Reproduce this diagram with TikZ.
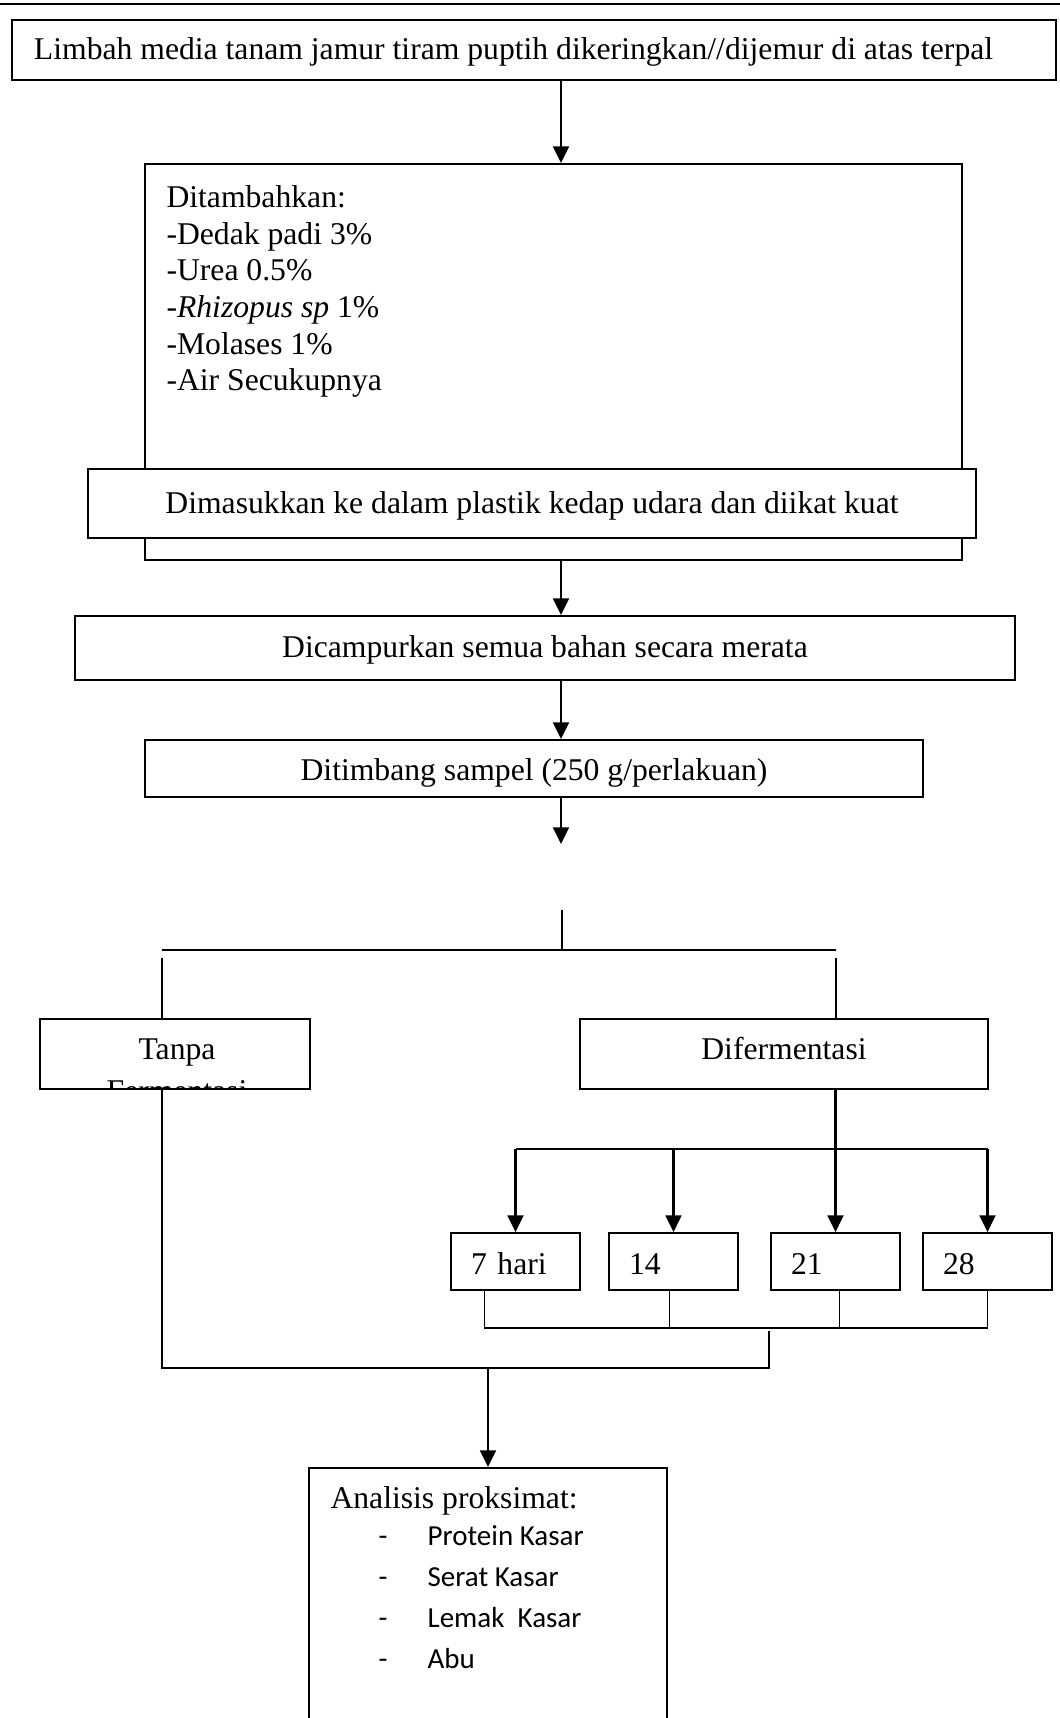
\documentclass[tikz,border=0pt]{standalone}
\usepackage{fontspec}
\setmainfont{Liberation Serif}
\newfontfamily\calibri{Carlito}
\usetikzlibrary{arrows.meta,positioning,calc}

\begin{document}
\begin{tikzpicture}[
  x=0.3791pt, y=-0.3791pt,
  font=\fontsize{12}{13.9}\selectfont,
  box/.style={draw, line width=0.75pt, fill=white, align=center, inner sep=0pt, text height=9.9pt, text depth=2.6pt},
  daybox/.style={draw, line width=0.7pt, fill=white, align=left, text width=33.7pt, inner xsep=7.6pt, inner ysep=0pt, minimum height=21.6pt, text height=9.8pt, text depth=0pt},
  arr/.style={-{Triangle[length=6.3pt,width=6pt]}, line width=0.85pt},
  ln/.style={line width=0.6pt}
]
\useasboundingbox (0,0) rectangle (1060,1718);
\draw[line width=1.1pt] (0,4) -- (1060,4);

\node[box, anchor=west, align=flush left, text width=379.1pt, inner xsep=8.34pt, minimum height=22.75pt] (limbah) at (11,50) {Limbah media tanam jamur tiram puptih dikeringkan//dijemur di atas terpal};
\node[box, minimum width=309.7pt, minimum height=150.1pt] (tambah) at (553.5,362) {};
\node[anchor=north west, align=left, inner sep=0pt] (bahan) at (166,185) {Ditambahkan:\\-Dedak padi 3\%\\-Urea 0.5\%\\-\textit{Rhizopus sp} 1\%\\-Molases 1\%\\-Air Secukupnya};
\node[box, minimum width=336.6pt, minimum height=26.16pt] (dimasuk) at (532,503.5) {Dimasukkan ke dalam plastik kedap udara dan diikat kuat};
\node[box, minimum width=356.4pt, minimum height=24.26pt] (campur) at (545,648) {Dicampurkan semua bahan secara merata};
\node[box, minimum width=294.9pt, minimum height=21.6pt, text height=11.6pt] (timbang) at (534,768.5) {Ditimbang sampel (250 g/perlakuan)};

\node[box, minimum width=102.2pt, minimum height=26.5pt] (tanpa) at (175.25,1054) {};
\begin{scope}
  \clip (tanpa.south west) rectangle (tanpa.north east);
  \node[align=center, anchor=north, inner sep=0pt] (tanpatxt) at (177,1038) {Tanpa\\[2pt]Fermentasi};
\end{scope}
\node[box, minimum width=154.7pt, minimum height=26.5pt, text depth=6pt] (ferm) at (784,1054) {Difermentasi};

\node[daybox] (d7) at (515.5,1261.5) {7 hari};
\node[daybox] (d14) at (673.5,1261.5) {14};
\node[daybox] (d21) at (835.5,1261.5) {21};
\node[daybox] (d28) at (987.5,1261.5) {28};

\node[box, anchor=north, minimum width=135.7pt, minimum height=113.7pt] (analisis) at (488,1467) {};
\node[anchor=base west, inner sep=0pt] (judul) at (330,1508) {Analisis proksimat:};
\node[anchor=north west, align=left, inner sep=0pt, font=\calibri\fontsize{11}{15.6}\selectfont] (uji) at (378,1525) {\makebox[18.6pt][l]{-}Protein Kasar\\\makebox[18.6pt][l]{-}Serat Kasar\\\makebox[18.6pt][l]{-}Lemak\ \ Kasar\\\makebox[18.6pt][l]{-}Abu};

% main stem
\coordinate (axis) at (561,844);
\draw[arr] (limbah.south -| axis) -- (tambah.north -| axis);
\draw[arr] (tambah.south -| axis) -- (campur.north -| axis);
\draw[arr] (campur.south -| axis) -- (timbang.north -| axis);
\draw[arr] (timbang.south -| axis) -- (axis);

% fork into two treatments
\coordinate (fork) at (562,910);
\coordinate (forkL) at (162,950);
\coordinate (forkR) at (836,950);
\draw[ln] (fork) -- (fork |- forkL);
\draw[line width=0.9pt] (forkL) -- (forkR);
\draw[ln] ($(forkL)+(0,8)$) -- (forkL |- tanpa.north);
\draw[ln] ($(forkR)+(0,8)$) -- (forkR |- ferm.north);

% fermentation days
\coordinate (dist) at (0,1149);
\draw[line width=0.85pt] (d7.north |- dist) -- (d28.north |- dist);
\draw[arr] (d21.north |- ferm.south) -- (d21.north);
\draw[arr] (d7.north |- dist) -- (d7.north);
\draw[arr] (d14.north |- dist) -- (d14.north);
\draw[arr] (d28.north |- dist) -- (d28.north);

% gather again
\coordinate (gather) at (0,1328);
\coordinate (g7) at ($(d7.south)+(-31,0)$);
\coordinate (g14) at ($(d14.south)+(-4,0)$);
\coordinate (g21) at ($(d21.south)+(4,0)$);
\draw[ln] (g7) |- (d28.south |- gather);
\draw[ln] (g14) -- (g14 |- gather);
\draw[ln] (g21) -- (g21 |- gather);
\draw[ln] (d28.south) -- (d28.south |- gather);

\coordinate (join) at (769,1368);
\coordinate (joinL) at (162,1368);
\draw[ln] ($(join |- gather)+(0,3)$) -- (join) -- (joinL) -- (joinL |- tanpa.south);
\draw[arr] (analisis.north |- join) -- (analisis.north);
\end{tikzpicture}
\end{document}
